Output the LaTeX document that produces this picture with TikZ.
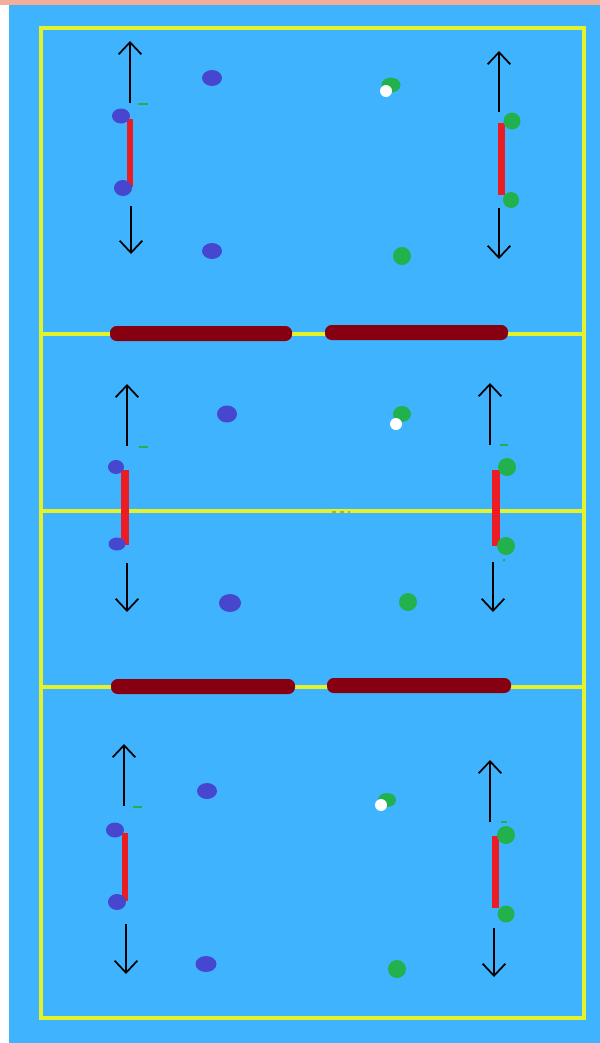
\documentclass[tikz,border=0pt]{standalone}
\usetikzlibrary{arrows.meta}
\definecolor{bgblue}{HTML}{3FB3FE}
\definecolor{topstrip}{HTML}{F2AE9A}
\definecolor{courtline}{HTML}{E4F22C}
\definecolor{netred}{HTML}{860012}
\definecolor{antenna}{HTML}{EC1C24}
\definecolor{pblue}{HTML}{4646CE}
\definecolor{pgreen}{HTML}{22B14C}
\tikzset{
  court/.style={draw=courtline,line width=2.6},
  netbar/.style={fill=netred,rounded corners=5},
  antbar/.style={fill=antenna},
  bluep/.style={fill=pblue},
  greenp/.style={fill=pgreen},
  ballw/.style={fill=white},
  mvarrow/.style={draw=black,line width=1.6,-{Straight Barb[length=9,width=17,line width=1.3]}},
  gdash/.style={draw=pgreen,line width=1.4},
}
\begin{document}
\begin{tikzpicture}[x=0.75pt,y=-0.75pt]
\useasboundingbox (0,0) rectangle (600,1043);
% background
\fill[white] (0,0) rectangle (600,1043);
\fill[bgblue] (9,0) rectangle (600,1043);
\fill[topstrip] (0,0) rectangle (600,5);
% court
\draw[court] (41,28) rectangle (584,1018);
\draw[court] (41,334) -- (584,334);
\draw[court] (41,511) -- (584,511);
\draw[court] (41,687) -- (584,687);
\draw[black,opacity=0.25,line width=1,dash pattern=on 3 off 3] (332,512) -- (350,512);
% nets
\fill[netbar] (110,326) rectangle (292,341);
\fill[netbar] (325,325) rectangle (508,340);
\fill[netbar] (111,679) rectangle (295,694);
\fill[netbar] (327,678) rectangle (511,693);

% ===== Section 1 =====
\coordinate (a1s) at (130,103); \coordinate (a1e) at (130,41);
\draw[mvarrow] (a1s) -- (a1e);
\coordinate (a2s) at (131,206); \coordinate (a2e) at (131,254);
\draw[mvarrow] (a2s) -- (a2e);
\draw[gdash] (138,104) -- (148,104);
\fill[antbar] (127,119) rectangle (133,187);
\fill[bluep] (121,116) ellipse (9 and 7.5);
\fill[bluep] (123,188) ellipse (9 and 8);
\fill[bluep] (212,78) ellipse (10 and 8);
\fill[bluep] (212,251) ellipse (10 and 8);
\fill[greenp] (391,85) ellipse (9.5 and 7.5);
\fill[ballw] (386,91) circle (6);
\fill[greenp] (402,256) circle (9);
\coordinate (a3s) at (499,112); \coordinate (a3e) at (499,51);
\draw[mvarrow] (a3s) -- (a3e);
\coordinate (a4s) at (499,208); \coordinate (a4e) at (499,259);
\draw[mvarrow] (a4s) -- (a4e);
\fill[antbar] (498,123) rectangle (505,195);
\fill[greenp] (512,121) circle (8.5);
\fill[greenp] (511,200) circle (8);

% ===== Section 2 =====
\coordinate (b1s) at (127,446); \coordinate (b1e) at (127,384);
\draw[mvarrow] (b1s) -- (b1e);
\coordinate (b2s) at (127,563); \coordinate (b2e) at (127,612);
\draw[mvarrow] (b2s) -- (b2e);
\draw[gdash] (139,447) -- (148,447);
\fill[antbar] (121,470) rectangle (129,545);
\fill[bluep] (116,467) ellipse (8 and 7);
\fill[bluep] (117,544) ellipse (8.5 and 6.5);
\fill[bluep] (227,414) ellipse (10 and 8.5);
\fill[bluep] (230,603) ellipse (11 and 9);
\fill[greenp] (402,414) ellipse (9 and 8);
\fill[ballw] (396,424) circle (6);
\fill[greenp] (408,602) circle (9);
\coordinate (b3s) at (490,445); \coordinate (b3e) at (490,383);
\draw[mvarrow] (b3s) -- (b3e);
\coordinate (b4s) at (493,562); \coordinate (b4e) at (493,612);
\draw[mvarrow] (b4s) -- (b4e);
\draw[gdash] (500,445) -- (508,445);
\fill[antbar] (492,470) rectangle (500,546);
\fill[greenp] (507,467) circle (9);
\fill[greenp] (506,546) circle (9);
\fill[greenp] (504,560) circle (1.5);

% ===== Section 3 =====
\coordinate (c1s) at (124,806); \coordinate (c1e) at (124,744);
\draw[mvarrow] (c1s) -- (c1e);
\coordinate (c2s) at (126,924); \coordinate (c2e) at (126,974);
\draw[mvarrow] (c2s) -- (c2e);
\draw[gdash] (133,807) -- (142,807);
\fill[antbar] (122,833) rectangle (128,901);
\fill[bluep] (115,830) ellipse (9 and 7.5);
\fill[bluep] (117,902) ellipse (9 and 8);
\fill[bluep] (207,791) ellipse (10 and 8);
\fill[bluep] (206,964) ellipse (10.5 and 8);
\fill[greenp] (387,800) ellipse (9 and 7);
\fill[ballw] (381,805) circle (6);
\fill[greenp] (397,969) circle (9);
\coordinate (c3s) at (490,822); \coordinate (c3e) at (490,760);
\draw[mvarrow] (c3s) -- (c3e);
\coordinate (c4s) at (494,928); \coordinate (c4e) at (494,977);
\draw[mvarrow] (c4s) -- (c4e);
\draw[gdash] (501,822) -- (507,822);
\fill[antbar] (492,836) rectangle (499,908);
\fill[greenp] (506,835) circle (9);
\fill[greenp] (506,914) circle (8.5);
\end{tikzpicture}
\end{document}
